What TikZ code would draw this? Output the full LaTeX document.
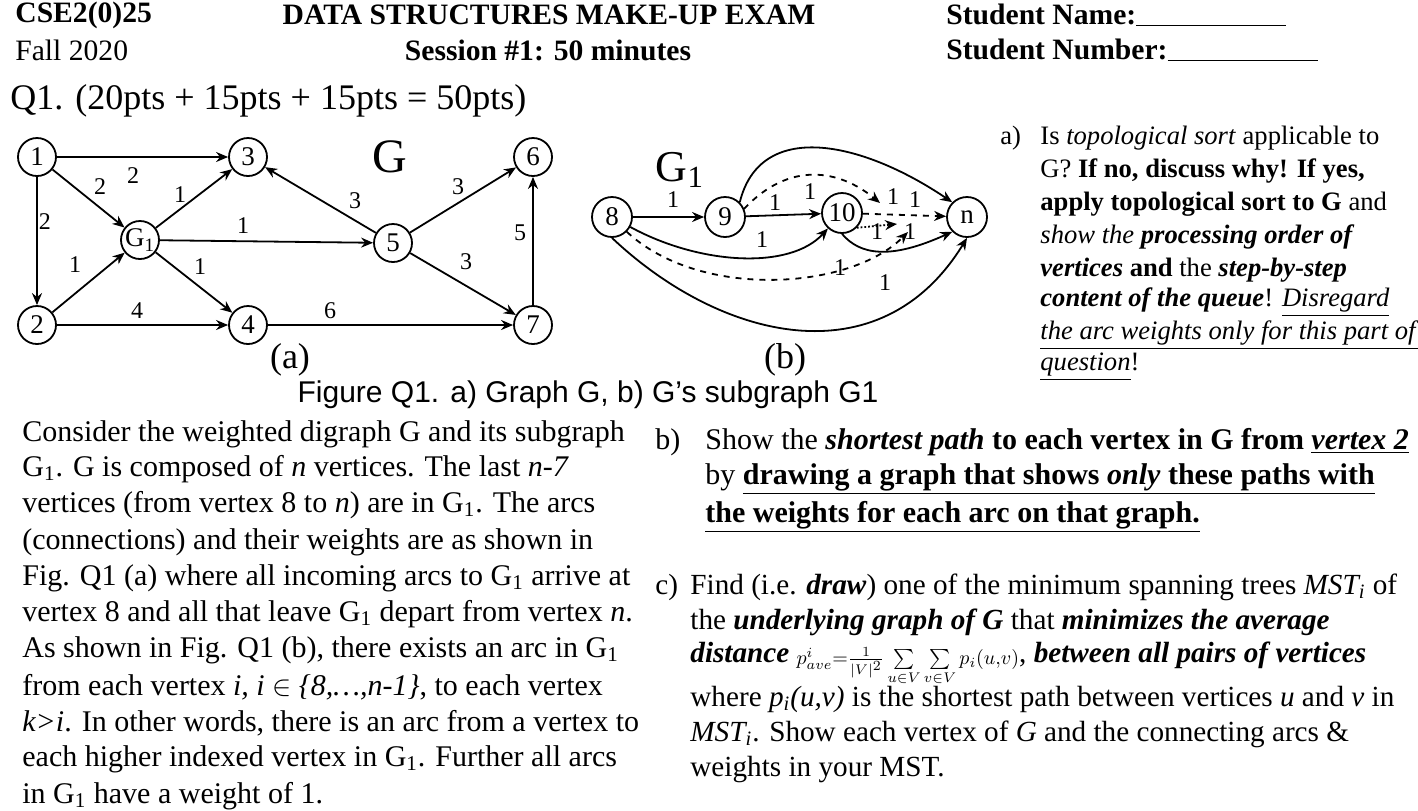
\documentclass[tikz,border=0pt]{standalone}
\usepackage{fontspec}
\setmainfont{Liberation Serif}
\newfontfamily\capfont{Liberation Sans}
\usetikzlibrary{arrows.meta}
\begin{document}
\begin{tikzpicture}[x=0.5pt,y=-0.5pt,
  vx/.style={circle,draw,line width=0.9pt,minimum size=19pt,inner sep=0pt,font=\fontsize{13.5}{13.5}\selectfont},
  ed/.style={line width=0.9pt,-{Stealth[length=6pt,width=5pt]}},
  wl/.style={font=\fontsize{12}{12}\selectfont,inner sep=1pt},
  tl/.style={anchor=west,inner sep=0pt,font=\fontsize{15}{15}\selectfont},
  al/.style={anchor=west,inner sep=0pt,font=\fontsize{13.3}{14}\selectfont},
  cl/.style={anchor=west,inner sep=0pt,font=\fontsize{14.6}{15}\selectfont},
  hd/.style={anchor=west,inner sep=0pt,font=\fontsize{14.8}{15}\selectfont}]
\useasboundingbox (0,0) rectangle (1418,810);
\clip (0,0) rectangle (1418,810);
% header
\node[hd] (h1) at (15,15) {\textbf{CSE2(0)25}};
\node[hd] (h2) at (15,50) {Fall 2020};
\node[hd,anchor=center] (h3) at (549,15) {\textbf{DATA STRUCTURES MAKE-UP EXAM}};
\node[hd,anchor=center] (h4) at (548,50) {\textbf{Session \#1: 50 minutes}};
\node[hd] (h5) at (946,15) {\textbf{Student Name:\rule[-1pt]{75pt}{0.6pt}}};
\node[hd] (h6) at (946,50) {\textbf{Student Number:\rule[-1pt]{75pt}{0.6pt}}};
\node[anchor=west,inner sep=0pt,font=\fontsize{18}{18}\selectfont] (q1) at (10,101) {Q1. (20pts + 15pts + 15pts = 50pts)};
% graph (a)
\node[vx] (n1) at (37,157) {1};
\node[vx] (n3) at (248,157) {3};
\node[vx] (n6) at (533,157) {6};
\node[vx] (g1) at (140,240) {G\textsubscript{1}};
\node[vx] (n5) at (393,243) {5};
\node[vx] (n2) at (37,325) {2};
\node[vx] (n4) at (248,325) {4};
\node[vx] (n7) at (533,325) {7};
\node[font=\fontsize{24}{24}\selectfont] (G) at (390,157) {G};
\draw[ed] (n1) -- (n3);
\draw[ed] (n1) -- (g1);
\draw[ed] (n1) -- (n2);
\draw[ed] (n2) -- (g1);
\draw[ed] (g1) -- (n3);
\draw[ed] (g1) -- (n5);
\draw[ed] (g1) -- (n4);
\draw[ed] (n2) -- (n4);
\draw[ed] (n4) -- (n7);
\draw[ed] (n5) -- (n3);
\draw[ed] (n5) -- (n6);
\draw[ed] (n5) -- (n7);
\draw[ed] (n7) -- (n6);
\node[wl] (w1) at (100,187) {2};
\node[wl] (w2) at (133,176) {2};
\node[wl] (w3) at (45,222) {2};
\node[wl] (w4) at (75,265) {1};
\node[wl] (w5) at (180,195) {1};
\node[wl] (w6) at (243,226) {1};
\node[wl] (w7) at (200,267) {1};
\node[wl] (w8) at (137,311) {4};
\node[wl] (w9) at (330,311) {6};
\node[wl] (w10) at (355,201) {3};
\node[wl] (w11) at (458,187) {3};
\node[wl] (w12) at (520,233) {5};
\node[wl] (w13) at (466,262) {3};
\node[font=\fontsize{18}{18}\selectfont] (la) at (290,360) {(a)};
% graph (b)
\node[vx,minimum size=20pt] (n8) at (612,217) {8};
\node[vx,minimum size=20pt] (n9) at (725,217) {9};
\node[vx,minimum size=20pt] (n10) at (842,213) {10};
\node[vx,minimum size=20pt] (nn) at (967,217) {n};
\node[font=\fontsize{22}{22}\selectfont] (G1) at (680,170) {G\textsubscript{1}};
\coordinate (c1) at (880,203);
\coordinate (c2) at (897,224);
\coordinate (c3) at (908,232);
\draw[ed] (n8) -- (n9);
\draw[ed] (n9) -- (n10);
\draw[ed] (n8) .. controls (700,265) and (790,270) .. (n10);
\draw[ed] (n9.north east) .. controls (760,120) and (860,140) .. (nn.north west);
\draw[ed,dashed] (n9.east) ++(-2,-8) .. controls (790,160) and (840,170) .. (c1);
\draw[ed,dashed] (n10) -- (nn);
\draw[ed,densely dotted] (n10.south east) -- (c2);
\draw[ed,dashed] (n8.south east) .. controls (700,300) and (850,290) .. (c3);
\draw[ed] (n10.south) .. controls (860,255) and (890,260) .. (nn.south west);
\draw[ed] (n8.south) .. controls (720,340) and (880,380) .. (nn.south);
\node[wl] (b1) at (673,200) {1};
\node[wl] (b2) at (775,203) {1};
\node[wl] (b3) at (810,192) {1};
\node[wl] (b4) at (762,240) {1};
\node[wl] (b5) at (893,197) {1};
\node[wl] (b6) at (915,200) {1};
\node[wl] (b7) at (877,232) {1};
\node[wl] (b8) at (910,232) {1};
\node[wl] (b9) at (840,268) {1};
\node[wl] (b10) at (885,283) {1};
\node[font=\fontsize{18}{18}\selectfont] (lb) at (785,360) {(b)};
\node[font=\capfont\fontsize{15}{15}\selectfont] (cap) at (588,395) {Figure Q1. a) Graph G, b) G’s subgraph G1};
% part a)
\node[al] (a0) at (1000,138) {a)};
\node[al] (a1) at (1040,138) {Is \textit{topological sort} applicable to};
\node[al] (a2) at (1040,171) {G? \textbf{If no, discuss why! If yes,}};
\node[al] (a3) at (1040,204) {\textbf{apply topological sort to G} and};
\node[al] (a4) at (1040,237) {\textit{show the} \textbf{\textit{processing order of}}};
\node[al] (a5) at (1040,270) {\textbf{\textit{vertices}} \textbf{and} the \textbf{\textit{step-by-step}}};
\node[al] (a6) at (1040,302) {\textbf{\textit{content of the queue}}! \underline{\textit{Disregard}}};
\node[al] (a7) at (1040,335) {\underline{\textit{the arc weights only for this part of}}};
\node[al] (a8) at (1040,367) {\underline{\textit{question}}!};
% left paragraph
\node[tl] (l1) at (22,434) {Consider the weighted digraph G and its subgraph};
\node[tl] (l2) at (22,469) {G\textsubscript{1}. G is composed of \textit{n} vertices. The last \textit{n-7}};
\node[tl] (l3) at (22,505) {vertices (from vertex 8 to \textit{n}) are in G\textsubscript{1}. The arcs};
\node[tl] (l4) at (22,542) {(connections) and their weights are as shown in};
\node[tl] (l5) at (22,578) {Fig. Q1 (a) where all incoming arcs to G\textsubscript{1} arrive at};
\node[tl] (l6) at (22,614) {vertex 8 and all that leave G\textsubscript{1} depart from vertex \textit{n}.};
\node[tl] (l7) at (22,650) {As shown in Fig. Q1 (b), there exists an arc in G\textsubscript{1}};
\node[tl] (l8) at (22,687) {from each vertex \textit{i, i} $\in$ \textit{\{8,…,n-1\}}, to each vertex};
\node[tl] (l9) at (22,723) {\textit{k>i}. In other words, there is an arc from a vertex to};
\node[tl] (l10) at (22,759) {each higher indexed vertex in G\textsubscript{1}. Further all arcs};
\node[tl] (l11) at (22,796) {in G\textsubscript{1} have a weight of 1.};
% part b)
\node[tl] (bb0) at (655,442) {b)};
\node[tl] (bb1) at (705,442) {Show the \textbf{\textit{shortest path}} \textbf{to each vertex in G from \underline{\textit{vertex 2}}}};
\node[tl] (bb2) at (705,479) {by \textbf{\underline{drawing a graph that shows \textit{only} these paths with}}};
\node[tl] (bb3) at (705,517) {\textbf{\underline{the weights for each arc on that graph.}}};
% part c)
\node[cl] (cc0) at (655,587) {c)};
\node[cl] (cc1) at (690,587) {Find (i.e. \textbf{\textit{draw}}) one of the minimum spanning trees \textit{MST\textsubscript{i}} of};
\node[cl] (cc2) at (690,622) {the \textbf{\textit{underlying graph of G}} that \textbf{\textit{minimizes the average}}};
\node[cl] (cc3) at (690,664) {\textbf{\textit{distance}} \raisebox{-1pt}{$\scriptstyle p^{i}_{ave}=\frac{1}{|V|^2}\sum\limits_{u\in V}\sum\limits_{v\in V}p_i(u,v)$}, \textbf{\textit{between all pairs of vertices}}};
\node[cl] (cc4) at (690,699) {where \textit{p\textsubscript{i}(u,v)} is the shortest path between vertices \textit{u} and \textit{v} in};
\node[cl] (cc5) at (690,734) {\textit{MST\textsubscript{i}}. Show each vertex of \textit{G} and the connecting arcs \&};
\node[cl] (cc6) at (690,770) {weights in your MST.};
\end{tikzpicture}
\end{document}
